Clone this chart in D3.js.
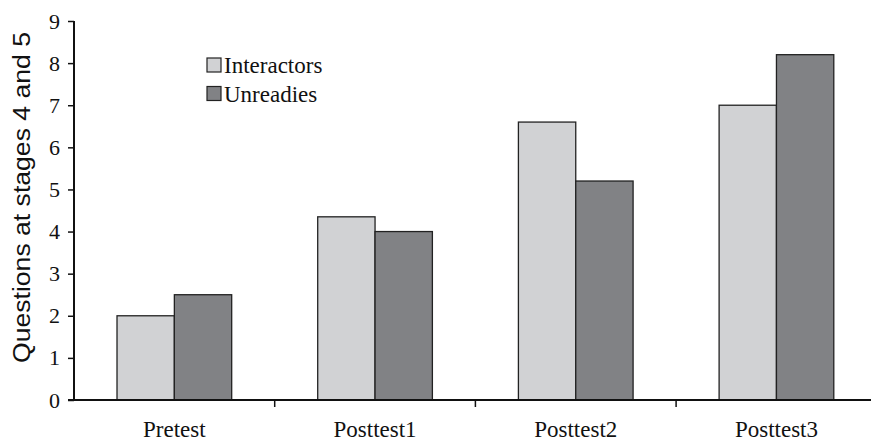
<!DOCTYPE html>
<html><head><meta charset="utf-8">
<script src="https://cdn.jsdelivr.net/npm/d3@7"></script>
<style>
body{margin:0;background:#fff}svg{display:block}
.serif{font-family:"Liberation Serif","Times New Roman",serif}
.sans{font-family:"Liberation Sans",Arial,sans-serif}
</style>
</head><body>
<svg id="c" width="871" height="443"></svg>
<script>
const categories = ["Pretest", "Posttest1", "Posttest2", "Posttest3"];
const seriesNames = ["Interactors", "Unreadies"];
const interactors = [2.0, 4.35, 6.6, 7.0];
const unreadies = [2.5, 4.0, 5.2, 8.2];
const yTicks = [0, 1, 2, 3, 4, 5, 6, 7, 8, 9];
const colors = ["#d1d2d4", "#818285"];

const svg = d3.select("#c");
const leftX = 74, topY = 21, bottomY = 400, bandW = 200.7;
const x = d3.scaleBand().domain(categories).range([leftX, leftX + bandW * 4]).paddingInner(0).paddingOuter(0);
const x1 = d3.scaleBand().domain(seriesNames).range([0, x.bandwidth()]).paddingInner(0).paddingOuter(0.75);
const y = d3.scaleLinear().domain([0, 9]).range([bottomY, topY]);

const data = categories.map((c, i) => ({c, vals: [interactors[i], unreadies[i]]}));

const g = svg.append("g");
data.forEach(d => {
  d.vals.forEach((v, j) => {
    g.append("rect")
      .attr("x", x(d.c) + x1(seriesNames[j]))
      .attr("y", y(v))
      .attr("width", x1.bandwidth())
      .attr("height", y(0) - y(v))
      .attr("fill", colors[j])
      .attr("stroke", "#222")
      .attr("stroke-width", 1.3);
  });
});

// Y axis
const ya = svg.append("g").attr("transform", `translate(${leftX},0)`)
  .call(d3.axisLeft(y).tickValues(yTicks).tickSize(6).tickPadding(8).tickFormat(d3.format("d")));
ya.attr("font-family", null).attr("font-size", null);
ya.select(".domain").attr("stroke", "#111").attr("stroke-width", 2).attr("d", `M0,${topY}V${bottomY}`);
ya.selectAll(".tick line").attr("stroke", "#111").attr("stroke-width", 1.5);
ya.selectAll(".tick text").attr("class", "serif").style("font-size", "22px").attr("fill", "#111");

// X axis
const xa = svg.append("g").attr("transform", `translate(0,${bottomY})`)
  .call(d3.axisBottom(x).tickSize(0).tickPadding(21));
xa.attr("font-family", null).attr("font-size", null);
xa.select(".domain").attr("stroke", "#111").attr("stroke-width", 2).attr("d", `M${leftX - 6},0H871`);
xa.selectAll(".tick text").attr("class", "serif").style("font-size", "23px").attr("fill", "#111");
xa.selectAll(".sep").data(categories.slice(1)).enter().append("line")
  .attr("x1", d => x(d)).attr("x2", d => x(d)).attr("y1", 0).attr("y2", 7)
  .attr("stroke", "#111").attr("stroke-width", 1.5);

// Y title
svg.append("text")
  .attr("class", "sans")
  .attr("transform", "translate(30,197.5) rotate(-90)")
  .attr("text-anchor", "middle")
  .style("font-size", "23px")
  .attr("fill", "#111")
  .attr("textLength", 331).attr("lengthAdjust", "spacingAndGlyphs")
  .text("Questions at stages 4 and 5");

// Legend
const lg = svg.append("g").attr("transform", "translate(207,58)");
seriesNames.forEach((s, j) => {
  const row = lg.append("g").attr("transform", `translate(0,${j * 28.5})`);
  row.append("rect").attr("width", 14).attr("height", 14).attr("fill", colors[j]).attr("stroke", "#222").attr("stroke-width", 1.2);
  row.append("text").attr("class", "serif").attr("x", 17).attr("y", 15).style("font-size", "23px").attr("fill", "#111").text(s);
});
</script>
</body></html>
